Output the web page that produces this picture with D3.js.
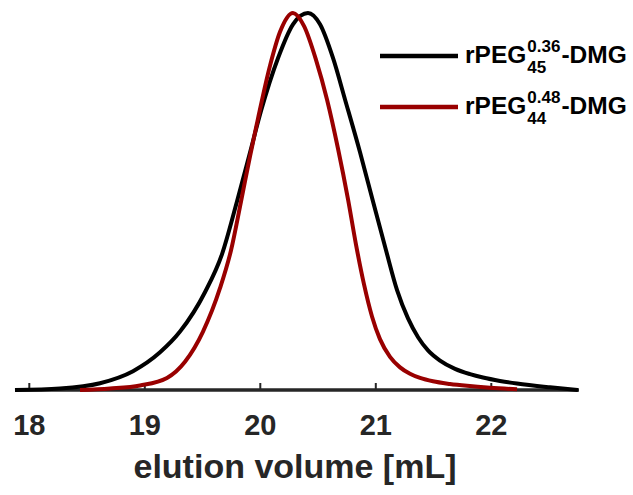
<!DOCTYPE html>
<html>
<head>
<meta charset="utf-8">
<script src="https://cdn.jsdelivr.net/npm/d3@7"></script>
<style>
  html, body { margin: 0; padding: 0; background: #fff; }
  svg { display: block; }
  text { font-family: "Liberation Sans", Arial, sans-serif; font-weight: bold; }
</style>
</head>
<body>
<svg id="chart" width="633" height="495"></svg>
<script>
// Elution volume (mL) and normalised detector signal for each sample
const volA = [17.876, 18.266, 18.612, 18.898, 19.132, 19.305, 19.522, 19.668, 19.798, 19.911, 20.006, 20.153, 20.283, 20.413, 20.517, 20.630, 20.734, 20.864, 20.976, 21.089, 21.184, 21.279, 21.366, 21.452, 21.556, 21.686, 21.816, 21.928, 22.075, 22.222, 22.508, 22.750];
const sigA = [0.000, 0.004, 0.018, 0.050, 0.100, 0.155, 0.260, 0.360, 0.500, 0.630, 0.740, 0.880, 0.970, 1.000, 0.970, 0.880, 0.770, 0.630, 0.500, 0.370, 0.265, 0.190, 0.140, 0.105, 0.078, 0.056, 0.042, 0.033, 0.024, 0.017, 0.007, 0.000];

const volB = [18.439, 18.699, 18.959, 19.192, 19.348, 19.504, 19.651, 19.746, 19.833, 19.911, 19.980, 20.084, 20.171, 20.283, 20.379, 20.483, 20.578, 20.673, 20.760, 20.829, 20.898, 20.967, 21.036, 21.123, 21.210, 21.296, 21.383, 21.495, 21.642, 21.790, 21.989, 22.223];
const sigB = [0.000, 0.004, 0.012, 0.032, 0.075, 0.155, 0.270, 0.370, 0.500, 0.620, 0.720, 0.860, 0.950, 1.000, 0.965, 0.875, 0.770, 0.640, 0.505, 0.385, 0.280, 0.195, 0.135, 0.088, 0.060, 0.043, 0.032, 0.023, 0.016, 0.011, 0.006, 0.002];

const xTicks = [18, 19, 20, 21, 22];
const seriesNames = ["A", "B"];
const seriesColors = ["#000000", "#990000"];
const legendBase = "rPEG";
const legendSup = ["0.36", "0.48"];
const legendSub = ["45", "44"];
const legendTail = "-DMG";
const xTitle = "elution volume [mL]";

const svg = d3.select("#chart");

const x = d3.scaleLinear().domain([18, 22]).range([29.3, 491.3]);
const y = d3.scaleLinear().domain([0, 1]).range([390, 13]);

// Baseline axis
svg.append("line")
  .attr("x1", 15).attr("x2", 579)
  .attr("y1", y(0)).attr("y2", y(0))
  .attr("stroke", "#262626").attr("stroke-width", 3.5);

// Inward tick marks
svg.selectAll(".tick")
  .data(xTicks).enter().append("line")
  .attr("x1", d => x(d)).attr("x2", d => x(d))
  .attr("y1", y(0)).attr("y2", y(0) - 7)
  .attr("stroke", "#262626").attr("stroke-width", 2);

svg.selectAll(".ticklabel")
  .data(xTicks).enter().append("text")
  .attr("x", d => x(d)).attr("y", 435)
  .attr("text-anchor", "middle")
  .attr("font-size", 29)
  .attr("fill", "#262626")
  .text(d => d);

svg.append("text")
  .attr("x", 295).attr("y", 478)
  .attr("text-anchor", "middle")
  .attr("font-size", 34)
  .attr("fill", "#262626")
  .text(xTitle);

// Chromatogram traces
const series = [
  volA.map((v, i) => [v, sigA[i]]),
  volB.map((v, i) => [v, sigB[i]])
];
const line = d3.line()
  .x(d => x(d[0]))
  .y(d => y(d[1]))
  .curve(d3.curveMonotoneX);

series.forEach((pts, i) => {
  svg.append("path")
    .datum(pts)
    .attr("d", line)
    .attr("fill", "none")
    .attr("stroke", seriesColors[i])
    .attr("stroke-width", 4)
    .attr("stroke-linejoin", "round");
});

// Legend
const legY = [56, 107];
seriesNames.forEach((name, i) => {
  const ly = legY[i];
  svg.append("line")
    .attr("x1", 380).attr("x2", 458)
    .attr("y1", ly).attr("y2", ly)
    .attr("stroke", seriesColors[i]).attr("stroke-width", 4.5);
  const base = svg.append("text")
    .attr("x", 465).attr("y", ly + 7)
    .attr("font-size", 24.5).attr("fill", "#000")
    .text(legendBase);
  const bx = 465 + base.node().getComputedTextLength() + 1;
  const sup = svg.append("text")
    .attr("x", bx).attr("y", ly - 4)
    .attr("font-size", 17).attr("fill", "#000")
    .text(legendSup[i]);
  const sub = svg.append("text")
    .attr("x", bx).attr("y", ly + 17)
    .attr("font-size", 17).attr("fill", "#000")
    .text(legendSub[i]);
  const w = Math.max(sup.node().getComputedTextLength(), sub.node().getComputedTextLength());
  svg.append("text")
    .attr("x", bx + w + 1).attr("y", ly + 7)
    .attr("font-size", 24.5).attr("fill", "#000")
    .text(legendTail);
});
</script>
</body>
</html>
